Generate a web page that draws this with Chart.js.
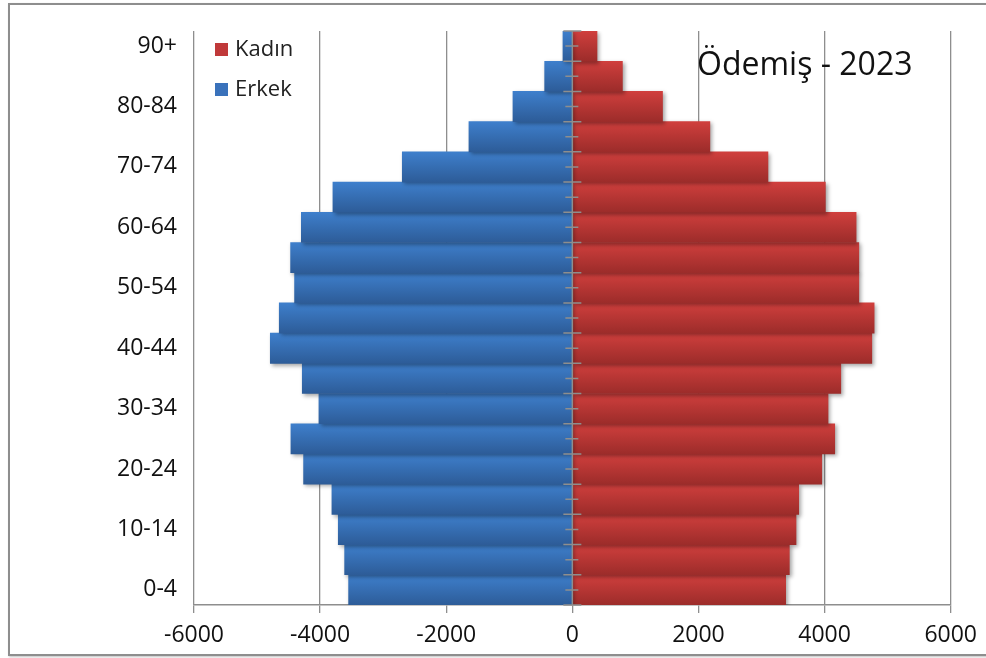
<!DOCTYPE html>
<html>
<head>
<meta charset="utf-8">
<script src="https://cdn.jsdelivr.net/npm/chart.js@4.4.1/dist/chart.umd.min.js"></script>
<style>
    body { margin: 0; background: #fff; overflow: hidden; }
    #frame {
        position: absolute; left: 8px; top: 3px; width: 1000px; height: 649px;
        border: 2px solid #8e8e8e; box-shadow: 1px 1px 2px rgba(0,0,0,0.25);
    }
    #pyramid { position: absolute; left: 0; top: 0; }
</style>
</head>
<body>
<div id="frame"></div>
<canvas id="pyramid" width="986" height="658"></canvas>
<script>
// Yaş grupları (alttan üste)
const ageGroups = ['0-4', '5-9', '10-14', '15-19', '20-24', '25-29', '30-34', '35-39', '40-44',
    '45-49', '50-54', '55-59', '60-64', '65-69', '70-74', '75-79', '80-84', '85-89', '90+'];
const erkek = [3548, 3611, 3712, 3813, 4262, 4463, 4019, 4283, 4790, 4648,
    4405, 4468, 4298, 3797, 2697, 1640, 942, 439, 149];
const kadin = [3383, 3441, 3547, 3590, 3955, 4161, 4055, 4257, 4749, 4786,
    4543, 4543, 4500, 4012, 3102, 2181, 1430, 794, 391];
const chartTitle = 'Ödemiş - 2023';

const FONT = '"Open Sans", "DejaVu Sans", sans-serif';
const GRID = '#8e8e8e';

// Dégradé vertical par barre (clair en haut, foncé en bas)
function barGradient(top, bottom) {
    return function (c) {
        const chart = c.chart;
        const area = chart.chartArea;
        const yScale = chart.scales.y;
        if (!area || !yScale) return top;
        const h = (area.bottom - area.top) / ageGroups.length;
        const y = yScale.getPixelForValue(c.dataIndex);
        const g = chart.ctx.createLinearGradient(0, y - h / 2, 0, y + h / 2);
        g.addColorStop(0, top);
        g.addColorStop(1, bottom);
        return g;
    };
}

const legendItems = [
    { label: 'Kadın', color: '#c0393a' },
    { label: 'Erkek', color: '#3a72bb' }
];

// Ombre + axe zéro + légende + titre
const decorPlugin = {
    id: 'decor',
    beforeDatasetsDraw(chart) {
        const ctx = chart.ctx;
        ctx.save();
        ctx.shadowColor = 'rgba(0,0,0,0.35)';
        ctx.shadowBlur = 4;
        ctx.shadowOffsetX = 2;
        ctx.shadowOffsetY = 2;
    },
    afterDatasetsDraw(chart) {
        const ctx = chart.ctx;
        ctx.restore();
        const area = chart.chartArea;
        const x0 = chart.scales.x.getPixelForValue(0);
        const h = (area.bottom - area.top) / ageGroups.length;

        ctx.save();
        ctx.strokeStyle = GRID;
        ctx.lineWidth = 1.5;
        ctx.beginPath();
        ctx.moveTo(x0, area.top);
        ctx.lineTo(x0, area.bottom);
        for (let i = 0; i <= ageGroups.length; i++) {
            const y = area.top + i * h;
            ctx.moveTo(x0 - 9, y);
            ctx.lineTo(x0 + 9, y);
        }
        for (let i = 0; i < ageGroups.length; i++) {
            const y = area.top + (i + 0.5) * h;
            ctx.moveTo(x0 - 7, y);
            ctx.lineTo(x0 + 6, y);
        }
        ctx.stroke();

        // Légende
        ctx.font = '22px ' + FONT;
        ctx.textBaseline = 'middle';
        legendItems.forEach((item, i) => {
            const y = area.top + 19 + i * 40;
            ctx.fillStyle = item.color;
            ctx.fillRect(area.left + 21, y - 7, 13, 13);
            ctx.fillStyle = '#222';
            ctx.fillText(item.label, area.left + 41, y);
        });

        // Titre
        ctx.font = '32px ' + FONT;
        ctx.fillStyle = '#111';
        ctx.textBaseline = 'alphabetic';
        ctx.fillText(chartTitle, area.left + 503, area.top + 44);
        ctx.restore();
    }
};

const ctx = document.getElementById('pyramid');
new Chart(ctx, {
    type: 'bar',
    data: {
        labels: ageGroups,
        datasets: [{
            label: 'Erkek',
            data: erkek.map(v => -v),
            backgroundColor: barGradient('#3e7fcc', '#2d5c98'),
            borderWidth: 0,
            barPercentage: 1,
            categoryPercentage: 1
        }, {
            label: 'Kadın',
            data: kadin,
            backgroundColor: barGradient('#d03f3d', '#9c2c2a'),
            borderWidth: 0,
            barPercentage: 1,
            categoryPercentage: 1
        }]
    },
    options: {
        indexAxis: 'y',
        responsive: false,
        animation: false,
        layout: { padding: { top: 31, right: 35, left: 0, bottom: 0 } },
        plugins: {
            legend: { display: false },
            tooltip: { enabled: false }
        },
        scales: {
            x: {
                stacked: true,
                min: -6000,
                max: 6000,
                ticks: {
                    stepSize: 2000,
                    color: '#111',
                    padding: 9,
                    font: { family: FONT, size: 23 },
                    callback: v => String(v)
                },
                grid: { color: GRID, lineWidth: 1.3, tickLength: 8 },
                border: { color: GRID, width: 1.5 },
                afterFit: s => { s.height = 53; }
            },
            y: {
                stacked: true,
                reverse: true,
                ticks: {
                    autoSkip: false,
                    color: '#111',
                    padding: 17,
                    font: { family: FONT, size: 23 },
                    callback: (v, i) => (i % 2 === 0 ? ageGroups[i] : '')
                },
                grid: { display: false, drawTicks: false },
                border: { display: false },
                afterFit: s => { s.width = 194; }
            }
        }
    },
    plugins: [decorPlugin]
});
</script>
</body>
</html>
